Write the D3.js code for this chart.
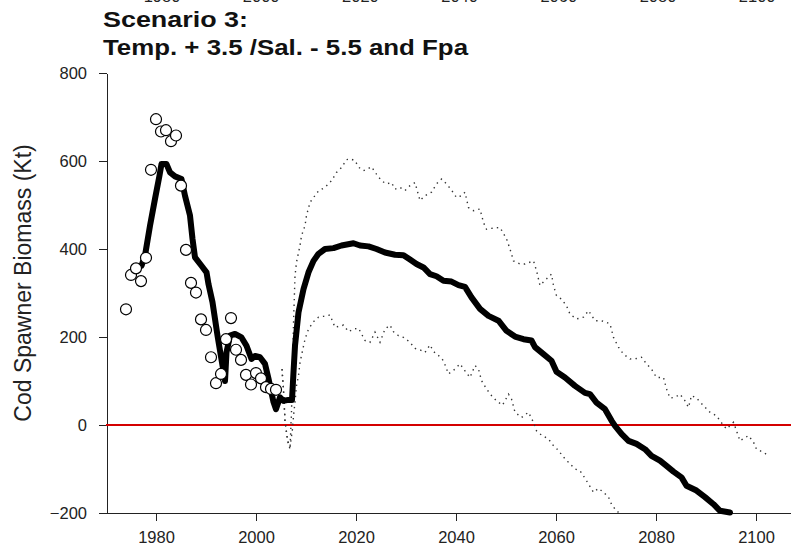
<!DOCTYPE html>
<html lang="en">
<head>
    <meta charset="UTF-8">
    <title>Scenario 3 - Cod Spawner Biomass</title>
    <script src="https://d3js.org/d3.v7.min.js"></script>
    <style>
        body { margin: 0; background: #fff; }
        svg { display: block; font-family: "Liberation Sans", Arial, sans-serif; }
        .axis path, .axis line { stroke: #222; stroke-width: 1.3px; shape-rendering: crispEdges; }
        .axis text { font-size: 16.5px; fill: #222; font-family: "Liberation Sans", Arial, sans-serif; }
    </style>
</head>
<body>
<div id="chart"></div>
<script>
    // Observed SSB (circles)
    const obsYears = [1974, 1975, 1976, 1977, 1978, 1979, 1980, 1981, 1982, 1983, 1984, 1985, 1986, 1987, 1988, 1989,
        1990, 1991, 1992, 1993, 1994, 1995, 1996, 1997, 1998, 1999, 2000, 2001, 2002, 2003, 2004];
    const obsValues = [263, 341, 356, 327, 380, 580, 695, 667, 670, 645, 658, 544, 398, 323, 301, 240,
        216, 154, 95, 116, 195, 243, 171, 148, 114, 92, 118, 106, 86, 82, 80];

    // Model mean (thick line)
    const meanYears = [1977.1, 1977.8, 1978.8, 1979.8, 1980.7, 1981.1, 1982.1, 1982.8, 1983.8, 1985.1, 1985.8, 1986.8,
        1987.3, 1987.8, 1989.1, 1990.1, 1990.5, 1991.3, 1992.3, 1993.3, 1993.8, 1994.1, 1994.8, 1995.8, 1997.1, 1998.1,
        1999.1, 1999.8, 2000.8, 2001.8, 2002.5, 2003.5, 2004, 2004.8, 2005.5, 2006.5, 2007.2, 2007.5, 2007.8, 2008.5,
        2009.5, 2010.5, 2011.5, 2012.5, 2013.8, 2015.5, 2017.1, 2019.5, 2020.8, 2022.5, 2024.1, 2025.8, 2027.8, 2029.5,
        2030.8, 2032.1, 2033.5, 2034.8, 2036.1, 2037.5, 2039.1, 2040.5, 2041.8, 2043.1, 2044.8, 2046.5, 2048.5, 2050.1,
        2051.8, 2053.5, 2055.1, 2055.8, 2057.5, 2059.1, 2060.1, 2061.8, 2063.8, 2065.8, 2066.8, 2068.1, 2069.8, 2071.1,
        2071.8, 2073.1, 2074.5, 2076.1, 2077.8, 2079.1, 2080.8, 2082.1, 2083.5, 2085.1, 2086.1, 2088.1, 2089.8, 2091.5,
        2092.8, 2094.8];
    const meanValues = [362, 385, 453, 514, 567, 593, 593, 574, 565, 559, 521, 476,
        423, 381, 362, 347, 320, 279, 203, 135, 100, 165, 203, 207, 199, 180,
        150, 157, 154, 139, 105, 52, 36, 63, 55, 57, 57, 120, 180, 256,
        309, 347, 373, 389, 400, 402, 408, 413, 408, 406, 400, 392, 387, 386,
        376, 366, 358, 343, 338, 328, 326, 318, 314, 290, 264, 248, 237, 214,
        201, 195, 192, 177, 161, 146, 121, 108, 89, 73, 70, 51, 36, 10,
        -2, -20, -36, -43, -55, -70, -81, -93, -106, -119, -138, -149, -164, -180,
        -195, -199];

    // Upper bound (dotted)
    const upperYears = [2005.2, 2005.5, 2005.8, 2006.3, 2006.8, 2007.1, 2007.3, 2007.5, 2007.8, 2008.1, 2008.8, 2009.1,
        2009.8, 2010.1, 2010.8, 2011.5, 2012.5, 2013.8, 2015.1, 2016.1, 2017.1, 2018.1, 2018.8, 2019.8, 2020.5, 2021.5,
        2022.5, 2023.1, 2024.1, 2025.1, 2026.1, 2027.1, 2027.8, 2028.8, 2029.8, 2030.8, 2031.8, 2032.8, 2033.8, 2035.1,
        2036.1, 2037.1, 2038.1, 2039.1, 2040.1, 2041.1, 2041.8, 2042.5, 2043.5, 2044.8, 2045.5, 2046.1, 2047.1, 2048.8,
        2050.1, 2050.8, 2051.5, 2052.8, 2053.8, 2055.5, 2056.1, 2056.8, 2058.1, 2059.1, 2059.5, 2060.1, 2061.1, 2062.1,
        2062.8, 2064.1, 2065.5, 2066.5, 2067.8, 2069.1, 2070.8, 2071.5, 2072.5, 2073.5, 2074.8, 2076.1, 2077.1, 2078.1,
        2079.1, 2080.1, 2081.5, 2082.1, 2082.8, 2083.8, 2084.8, 2085.8, 2086.5, 2087.1, 2088.1, 2089.5, 2090.8, 2092.1,
        2093.1, 2094.1, 2095.5, 2096.1, 2096.8, 2098.5, 2099.5, 2100.1, 2101.5, 2102.5];
    const upperValues = [127, 80, 10, -35, -55, 30, 120, 230, 339, 370, 408, 430,
        453, 476, 506, 517, 532, 540, 555, 574, 585, 603, 605, 601, 586, 578,
        583, 587, 570, 555, 548, 551, 536, 540, 533, 544, 551, 510, 521, 529,
        548, 559, 548, 534, 517, 521, 529, 494, 487, 491, 460, 445, 447, 449,
        423, 400, 373, 366, 366, 373, 351, 317, 332, 343, 317, 294, 286, 271,
        252, 241, 245, 260, 237, 237, 230, 199, 177, 161, 150, 151, 154, 139,
        127, 108, 108, 82, 61, 63, 70, 55, 40, 67, 61, 44, 29, 21,
        5, -9, 6, -13, -36, -24, -39, -55, -62, -70];

    // Lower bound (dotted)
    const lowerYears = [2005.2, 2005.5, 2005.8, 2006.3, 2006.8, 2007.3, 2007.5, 2007.8, 2008.1, 2008.5, 2008.8, 2009.1,
        2009.8, 2010.5, 2011.5, 2012.5, 2013.5, 2014.8, 2015.8, 2017.5, 2018.5, 2019.5, 2020.5, 2021.8, 2022.8, 2023.8,
        2024.5, 2024.8, 2025.8, 2026.8, 2027.5, 2028.5, 2029.5, 2030.7, 2031.8, 2032.8, 2033.8, 2034.8, 2035.5, 2036.5,
        2037.5, 2038.5, 2039.8, 2040.8, 2041.8, 2042.8, 2043.8, 2044.5, 2045.1, 2046.1, 2047.1, 2048.1, 2049.3, 2050.5,
        2051.1, 2051.8, 2053.1, 2054.5, 2055.5, 2056.1, 2057.1, 2058.5, 2059.5, 2060.5, 2061.5, 2062.5, 2063.8, 2064.8,
        2065.8, 2066.5, 2067.5, 2068.5, 2069.5, 2070.5, 2071.1, 2071.8, 2072.5];
    const lowerValues = [127, 80, 10, -35, -50, -9, 21, 52, 89, 112, 142, 158,
        195, 218, 235, 245, 247, 250, 222, 227, 212, 218, 220, 192, 188, 211,
        195, 188, 218, 227, 212, 203, 199, 189, 174, 171, 165, 182, 167, 158,
        146, 116, 127, 139, 123, 108, 135, 127, 101, 82, 67, 55, 45, 70,
        59, 29, 17, 29, 6, -13, -23, -32, -47, -58, -73, -85, -100, -104,
        -121, -134, -153, -144, -153, -164, -180, -191, -199];

    const yTicks = [-200, 0, 200, 400, 600, 800];
    const xTicks = [1980, 2000, 2020, 2040, 2060, 2080, 2100];
    // labels of the panel above, cut by the page edge
    const prevPanelLabels = ["1980", "2000", "2020", "2040", "2060", "2080", "2100"];

    const width = 791, height = 545;

    const svg = d3.select("#chart")
      .append("svg")
        .attr("width", width)
        .attr("height", height);

    const x = d3.scaleLinear().domain([1970, 2107]).range([106, 791]);
    const y = d3.scaleLinear().domain([-200, 800]).range([513, 73]);

    // remnants of the previous panel's year labels at the very top
    svg.selectAll(".prev-label")
        .data(prevPanelLabels)
      .enter().append("text")
        .attr("class", "prev-label")
        .attr("x", (d, i) => 162 + i * 99.2)
        .attr("y", 2)
        .attr("text-anchor", "middle")
        .style("font-size", "16.5px")
        .style("fill", "#222")
        .text(d => d);

    // Title
    svg.append("text")
        .attr("x", 103).attr("y", 27)
        .attr("textLength", 145).attr("lengthAdjust", "spacingAndGlyphs")
        .style("font-size", "22px").style("font-weight", "bold").style("fill", "#111")
        .text("Scenario 3:");
    svg.append("text")
        .attr("x", 103).attr("y", 55)
        .attr("textLength", 365).attr("lengthAdjust", "spacingAndGlyphs")
        .style("font-size", "22px").style("font-weight", "bold").style("fill", "#111")
        .text("Temp. + 3.5 /Sal. - 5.5 and Fpa");

    // Axes
    svg.append("g")
        .attr("class", "axis")
        .attr("transform", "translate(0,513)")
        .call(d3.axisBottom(x).tickValues(xTicks).tickFormat(d3.format("d"))
            .tickSize(8).tickSizeOuter(0).tickPadding(10));

    svg.append("g")
        .attr("class", "axis")
        .attr("transform", "translate(107,0)")
        .call(d3.axisLeft(y).tickValues(yTicks).tickSize(8).tickSizeOuter(0).tickPadding(12));

    // Y axis label
    svg.append("text")
        .attr("transform", "translate(31,283) rotate(-90)")
        .attr("text-anchor", "middle")
        .style("font-size", "23px")
        .style("fill", "#222")
        .text("Cod Spawner Biomass (Kt)");

    // zero line
    svg.append("line")
        .attr("x1", x(1970)).attr("x2", x(2107))
        .attr("y1", y(0)).attr("y2", y(0))
        .attr("stroke", "#d40000")
        .attr("stroke-width", 2.2);

    const line = d3.line()
        .x(d => x(d[0]))
        .y(d => y(d[1]));

    // dotted bounds
    [d3.zip(upperYears, upperValues), d3.zip(lowerYears, lowerValues)].forEach(function(series) {
        svg.append("path")
            .datum(series)
            .attr("fill", "none")
            .attr("stroke", "#333")
            .attr("stroke-width", 1.4)
            .attr("stroke-dasharray", "1.4,4.2")
            .attr("d", line);
    });

    // mean projection
    svg.append("path")
        .datum(d3.zip(meanYears, meanValues))
        .attr("fill", "none")
        .attr("stroke", "#000")
        .attr("stroke-width", 6)
        .attr("stroke-linejoin", "round")
        .attr("stroke-linecap", "round")
        .attr("d", line);

    // observed points
    svg.selectAll(".obs")
        .data(d3.zip(obsYears, obsValues))
      .enter().append("circle")
        .attr("class", "obs")
        .attr("cx", d => x(d[0]))
        .attr("cy", d => y(d[1]))
        .attr("r", 5.5)
        .attr("fill", "#fff")
        .attr("stroke", "#000")
        .attr("stroke-width", 1.2);
</script>
</body>
</html>
